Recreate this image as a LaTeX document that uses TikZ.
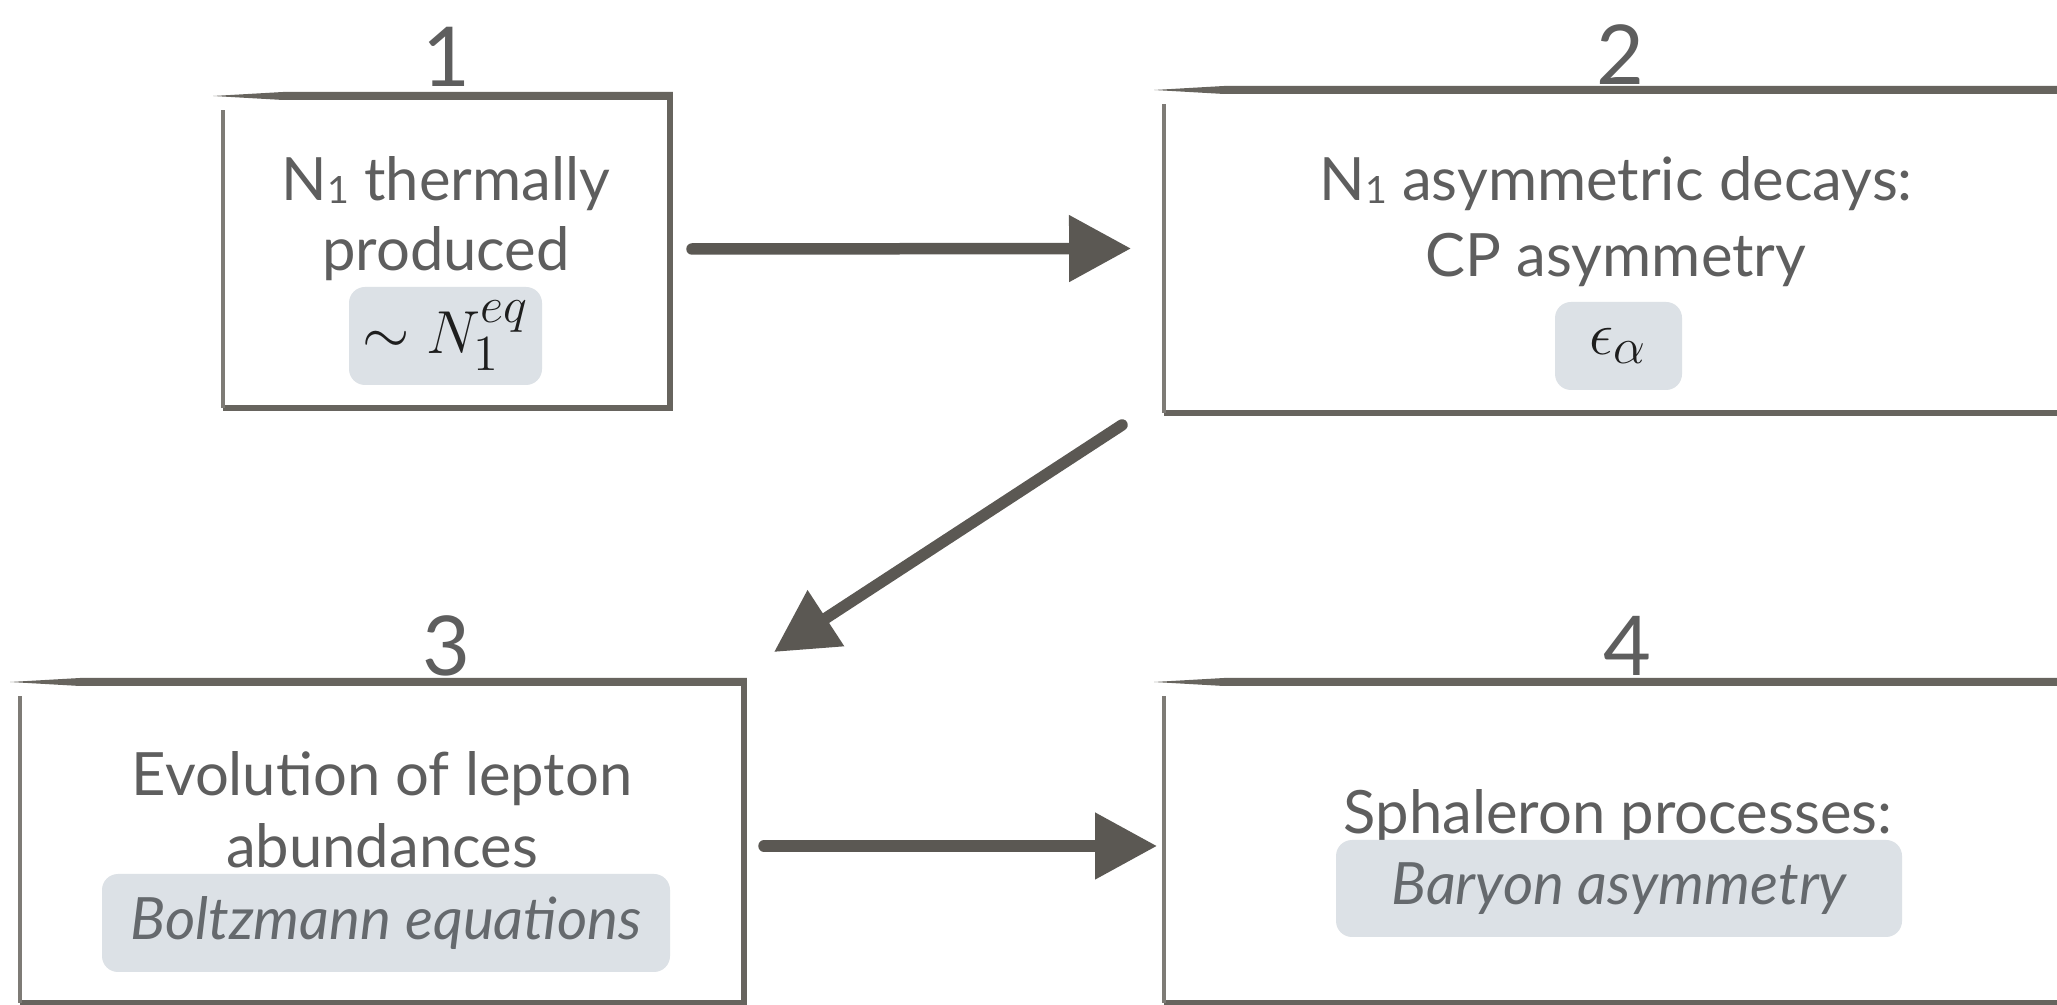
\documentclass[tikz,border=0pt]{standalone}
\usepackage{fontspec}
\setmainfont{Lato}
\usetikzlibrary{arrows.meta,calc}
\definecolor{txt}{HTML}{5E5E5E}
\definecolor{edge}{HTML}{67645E}
\definecolor{arr}{HTML}{5B5853}
\definecolor{hl}{HTML}{DCE1E6}
\definecolor{hltxt}{HTML}{65696D}
\definecolor{mathc}{HTML}{1E1E1E}
\newcommand\subone{\raisebox{-0.3mm}{\fontsize{10.7}{10.7}\selectfont 1}}
\tikzset{
  frame/.style={inner sep=0pt, outer sep=0pt},
  numlabel/.style={text=txt, font=\fontsize{23.5}{23.5}\selectfont, anchor=base, inner sep=0pt},
  body/.style={text=txt, font=\fontsize{17}{17}\selectfont, anchor=base, inner sep=0pt},
  hlbox/.style={fill=hl, rounded corners=1.6mm, inner sep=0pt, text=hltxt, font=\fontsize{16.6}{16.6}\selectfont\itshape},
  mathbox/.style={fill=hl, rounded corners=1.6mm, inner sep=0pt, text=mathc, font=\fontsize{19}{19}\selectfont},
  sideedge/.style={draw=edge, line width=0.55mm},
  thinedge/.style={draw=edge!85, line width=0.4mm},
  flow/.style={draw=arr, line width=1.15mm, line cap=round, -{Triangle[length=6.2mm,width=6.4mm]}},
}
\newcommand\sketchframe[1]{%
  \fill[edge] ($(#1.north west)+(-10,0)$) -- ($(#1.north west)+(60,-4)$) -- ($(#1.north east)+(2.75,-4)$) -- ($(#1.north east)+(2.75,4)$) -- ($(#1.north west)+(60,4)$) -- cycle;
  \draw[sideedge] (#1.north east) -- (#1.south east) -- (#1.south west);
  \draw[thinedge] (#1.south west) -- ($(#1.north west)+(0,14)$);
}
\begin{document}
\begin{tikzpicture}[x=0.1mm,y=-0.1mm]
\useasboundingbox (0,0) rectangle (2057,1005);
\clip (0,0) rectangle (2057,1005);
\fill[white] (0,0) rectangle (2057,1005);
% frames
\node[frame, minimum width=44.7mm, minimum height=31.2mm] (b1) at (446.5,252) {};
\node[frame, minimum width=91.2mm, minimum height=32.3mm] (b2) at (1620,251.5) {};
\node[frame, minimum width=72.4mm, minimum height=32.1mm] (b3) at (382,842.5) {};
\node[frame, minimum width=91.2mm, minimum height=32.1mm] (b4) at (1620,842.5) {};
\sketchframe{b1}
\sketchframe{b2}
\sketchframe{b3}
\sketchframe{b4}
% numbers
\node[numlabel] (n1) at (446,87) {1};
\node[numlabel] (n2) at (1620,85) {2};
\node[numlabel] (n3) at (446,676) {3};
\node[numlabel] (n4) at (1627,676) {4};
% box 1
\node[body] (t1a) at (446,201) {N\subone\ thermally};
\node[body] (t1b) at (446,271) {produced};
\node[mathbox, minimum width=19.3mm, minimum height=9.8mm] (m1) at (445.5,336) {$\sim N_1^{eq}$};
% box 2
\node[body] (t2a) at (1616,201) {N\subone\ asymmetric decays:};
\node[body] (t2b) at (1616,277) {CP asymmetry};
\node[mathbox, minimum width=12.7mm, minimum height=8.8mm] (m2) at (1618.5,346) {$\epsilon_\alpha$};
% box 3
\node[body] (t3a) at (382,796) {Evolution of lepton};
\node[body] (t3b) at (382,868) {abundances};
\node[hlbox, minimum width=56.8mm, minimum height=9.8mm] (h3) at (386,923) {Boltzmann equations};
% box 4
\node[body] (t4a) at (1618,834) {Sphaleron processes:};
\node[hlbox, minimum width=56.6mm, minimum height=9.7mm] (h4) at (1619,888.5) {Baryon asymmetry};
% arrows
\draw[flow] ($(b1.east)+(22,-3)$) -- ($(b2.west)+(-33,-3)$);
\draw[flow] ($(b2.south west)+(-42,12)$) -- ($(b3.north east)+(30,-30)$);
\draw[flow] ($(b3.east)+(20,3.5)$) -- ($(b4.west)+(-7,3.5)$);
\end{tikzpicture}
\end{document}
